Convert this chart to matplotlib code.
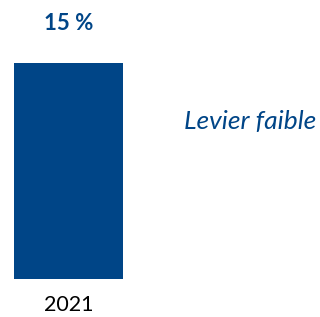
import matplotlib.pyplot as plt

years = ["2021"]
values = [15]
value_labels = ["15 %"]
note = "Levier faible"

blue = "#004587"

fig = plt.figure(figsize=(3.2, 3.17), dpi=100)
# axes box = bar area in pixels (bar x 14..123, y 63..279)
ax = fig.add_axes([14 / 320, (317 - 279) / 317, 109 / 320, (279 - 63) / 317])
ax.bar(range(len(values)), values, width=1.0, color=blue)
ax.set_xlim(-0.5, 0.5)
ax.set_ylim(0, max(values))
ax.axis("off")

for i, (v, lab) in enumerate(zip(values, value_labels)):
    ax.annotate(lab, (i, v), xytext=(0, 39), textcoords="offset pixels",
                ha="center", va="center", fontsize=16, fontweight="bold",
                color=blue, family="Lato", annotation_clip=False)
    ax.annotate(years[i], (i, 0), xytext=(0, -26), textcoords="offset pixels",
                ha="center", va="center", fontsize=15.5, color="black",
                family="Lato", annotation_clip=False)

fig.text(250.5 / 320, 1 - 121 / 317, note, ha="center", va="center",
         fontsize=19, style="italic", color=blue, family="Lato")

fig.savefig("out.png", dpi=100)
